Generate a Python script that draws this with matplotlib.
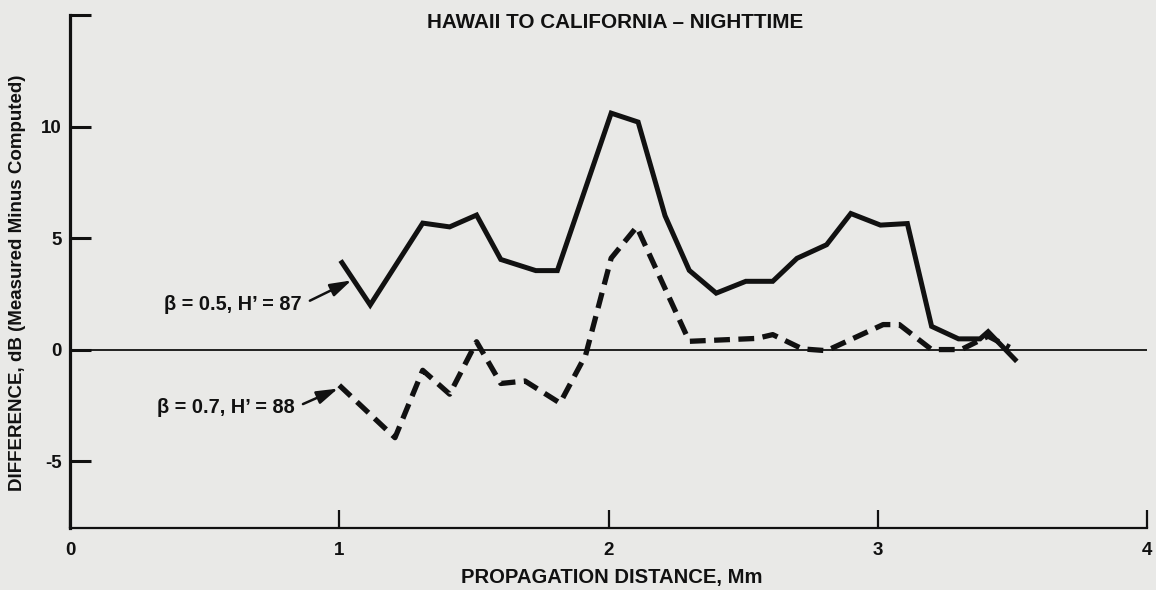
import matplotlib
matplotlib.use("Agg")
import matplotlib.pyplot as plt

plt.rcParams["font.family"] = ["Liberation Sans", "DejaVu Sans"]
plt.rcParams["font.weight"] = "bold"

# Measured minus computed signal difference along the Hawaii -> California path
dist_b05 = [1.01, 1.115, 1.31, 1.41, 1.51, 1.60, 1.73, 1.81, 2.01, 2.11, 2.21,
            2.30, 2.40, 2.51, 2.61, 2.70, 2.81, 2.90, 3.01, 3.11, 3.20, 3.30,
            3.38, 3.41, 3.51]
diff_b05 = [3.9, 2.0, 5.67, 5.5, 6.03, 4.04, 3.54, 3.54, 10.6, 10.2, 6.0,
            3.55, 2.53, 3.06, 3.06, 4.09, 4.7, 6.1, 5.58, 5.65, 1.04, 0.48,
            0.48, 0.8, -0.45]

dist_b07 = [1.00, 1.207, 1.31, 1.41, 1.51, 1.60, 1.69, 1.82, 1.915, 2.01, 2.105,
            2.30, 2.55, 2.61, 2.72, 2.81, 3.02, 3.08, 3.20, 3.31, 3.41, 3.49]
diff_b07 = [-1.6, -3.95, -0.93, -2.0, 0.35, -1.52, -1.41, -2.4, -0.25, 4.1, 5.5,
            0.37, 0.5, 0.67, 0.03, -0.05, 1.12, 1.12, 0.0, 0.0, 0.6, 0.1]

x_ticks = [0, 1, 2, 3, 4]
x_tick_labels = ["0", "1", "2", "3", "4"]
y_ticks = [-5, 0, 5, 10, 15]
y_tick_labels = ["-5", "0", "5", "10", ""]

title = "HAWAII TO CALIFORNIA \u2013 NIGHTTIME"
x_label = "PROPAGATION DISTANCE, Mm"
y_label = "DIFFERENCE, dB (Measured Minus Computed)"
label_b05 = "\u03b2 = 0.5, H\u2019 = 87"
label_b07 = "\u03b2 = 0.7, H\u2019 = 88"

paper = "#e9e9e7"
ink = "#111111"

fig = plt.figure(figsize=(11.56, 5.90), dpi=100, facecolor=paper)
ax = fig.add_axes([70 / 1156, 1 - 528 / 590, (1147 - 70) / 1156, (528 - 15) / 590])
ax.set_facecolor(paper)
ax.set_xlim(0, 4)
ax.set_ylim(-8, 15)

for side in ("top", "right"):
    ax.spines[side].set_visible(False)
ax.spines["left"].set_linewidth(2.3)
ax.spines["bottom"].set_linewidth(1.6)
ax.spines["left"].set_color(ink)
ax.spines["bottom"].set_color(ink)

ax.axhline(0, color=ink, lw=1.3, zorder=1)

ax.plot(dist_b05, diff_b05, color=ink, lw=3.6, solid_joinstyle="miter", zorder=3)
ax.plot(dist_b07, diff_b07, color=ink, lw=3.8, dashes=(3.0, 1.6), zorder=3)

ax.set_xticks(x_ticks)
ax.set_xticklabels(x_tick_labels)
ax.set_yticks(y_ticks)
ax.set_yticklabels(y_tick_labels)
ax.tick_params(axis="y", direction="in", length=15, width=2.2, pad=6,
               labelsize=13.5, colors=ink)
ax.tick_params(axis="x", direction="in", length=13, width=1.6, pad=10,
               labelsize=13.5, colors=ink)
for lab in ax.get_xticklabels() + ax.get_yticklabels():
    lab.set_fontweight("bold")

fig.text(615 / 1156, 1 - 23 / 590, title, ha="center", va="center",
         fontsize=14.9, fontweight="bold", color=ink)
fig.text(612 / 1156, 1 - 577 / 590, x_label, ha="center", va="center",
         fontsize=14.6, fontweight="bold", color=ink)
fig.text(18 / 1156, 1 - 283 / 590, y_label, ha="center", va="center",
         rotation=90, fontsize=13.5, fontweight="bold", color=ink)

arrow = dict(arrowstyle="-|>,head_length=0.9,head_width=0.28", color=ink,
             lw=1.8, shrinkA=4, shrinkB=0, relpos=(1.0, 0.5))
ax.annotate(label_b05, xy=(1.045, 3.1), xytext=(0.862, 2.02),
            ha="right", va="center", fontsize=14.3, fontweight="bold",
            color=ink, arrowprops=arrow)
ax.annotate(label_b07, xy=(0.995, -1.75), xytext=(0.836, -2.6),
            ha="right", va="center", fontsize=14.3, fontweight="bold",
            color=ink, arrowprops=arrow)

fig.savefig("out.png", dpi=100, facecolor=paper)
